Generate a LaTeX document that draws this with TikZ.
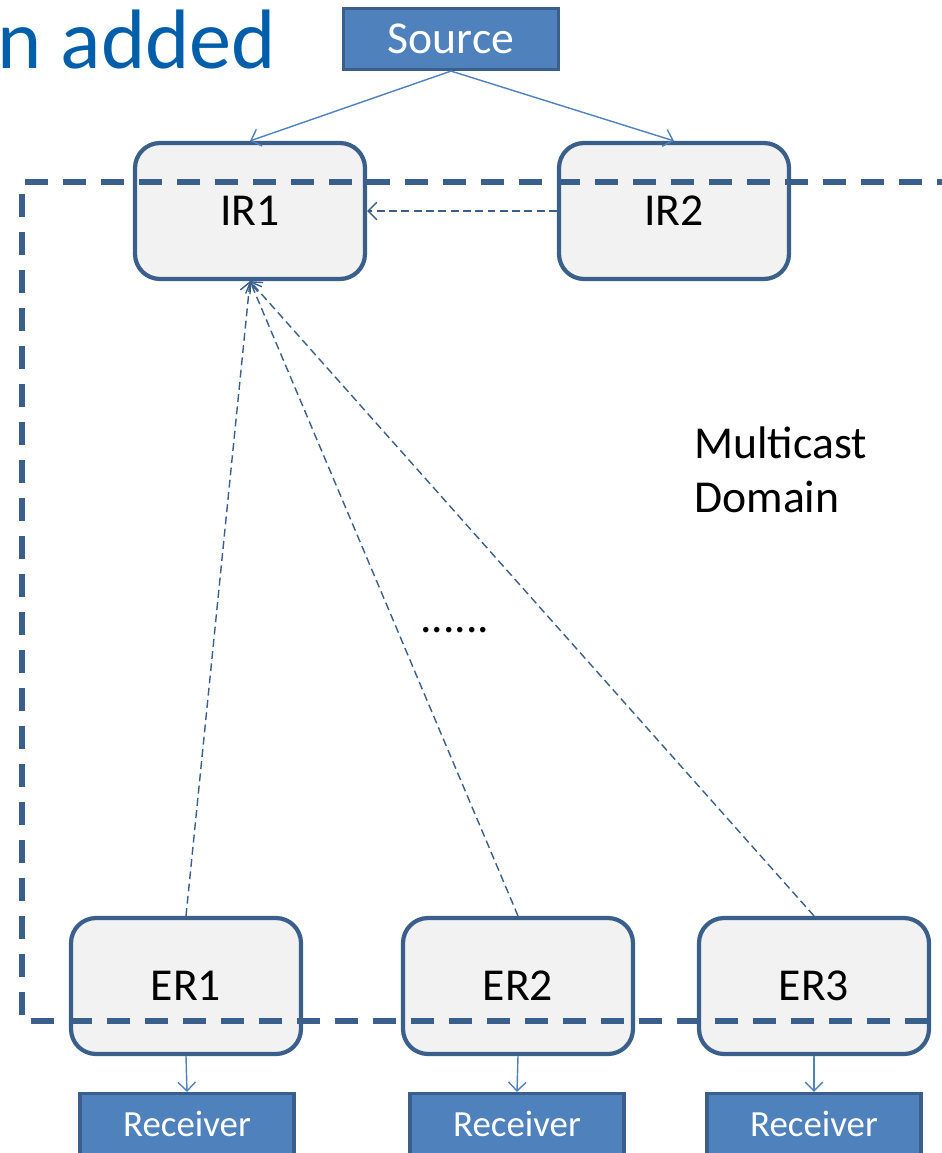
\documentclass[tikz,border=0pt]{standalone}
\usepackage{fontspec}
\setmainfont{Carlito}
\usetikzlibrary{arrows.meta}
\definecolor{edgeblue}{HTML}{3A5F8B}
\definecolor{hostblue}{HTML}{4F81BD}
\definecolor{titleblue}{HTML}{005EAA}
\tikzstyle{router} = [rectangle, rounded corners=0.5cm, minimum width=4.6cm, minimum height=2.72cm, text centered, draw=edgeblue, line width=2.4pt, fill=gray!10, font=\fontsize{26}{31}\selectfont]
\tikzstyle{hostbox} = [rectangle, minimum height=1.22cm, text centered, draw=edgeblue, line width=1.8pt, fill=hostblue, text=white]
\tikzstyle{link} = [hostblue, line width=0.8pt, -{Straight Barb[length=5pt,width=10pt]}]
\tikzstyle{signal} = [edgeblue, line width=0.8pt, dash pattern=on 4.5pt off 2.5pt, -{Straight Barb[length=5pt,width=10pt]}]
\tikzstyle{domainline} = [edgeblue, line width=3.2pt, dash pattern=on 0.46cm off 0.3cm]

\begin{document}
\begin{tikzpicture}[x=0.02cm, y=-0.02cm]

    \clip (0,0) rectangle (942,1153);

    % Title fragment
    \node (title) [anchor=base west, inner sep=0pt, text=titleblue, font=\fontsize{48}{52}\selectfont] at (-3,68) {n added};

    % Nodes
    \node (source) [hostbox, minimum width=4.3cm, font=\fontsize{26}{30}\selectfont] at (451,39) {Source};
    \node (ir1) [router] at (250,211) {IR1};
    \node (ir2) [router] at (674,211) {IR2};
    \node (er1) [router] at (186,986) {ER1};
    \node (er2) [router] at (518,986) {ER2};
    \node (er3) [router] at (814,986) {ER3};
    \node (rcv1) [hostbox, minimum width=4.28cm, font=\fontsize{21}{25}\selectfont] at (187,1124) {Receiver};
    \node (rcv2) [hostbox, minimum width=4.28cm, font=\fontsize{21}{25}\selectfont] at (517,1124) {Receiver};
    \node (rcv3) [hostbox, minimum width=4.28cm, font=\fontsize{21}{25}\selectfont] at (814,1124) {Receiver};

    % Multicast domain
    \draw [domainline] (960,182) -- (22,182) -- (22,1021) -- (960,1021);
    \node (dots) [font=\fontsize{26}{31}\selectfont] at (455,630) {......};
    \node (mdomain) [anchor=north west, align=left, inner sep=0pt, font=\fontsize{26}{31}\selectfont] at (694,426) {Multicast\\Domain};

    % Arrows
    \draw [link] (source.south) -- (ir1.north);
    \draw [link] (source.south) -- (ir2.north);
    \draw [signal] (ir2.west) -- (ir1.east);
    \draw [signal] (er1.north) -- (ir1.south);
    \draw [signal] (er2.north) -- (ir1.south);
    \draw [signal] (er3.north) -- (ir1.south);
    \draw [link] (er1.south) -- (rcv1.north);
    \draw [link] (er2.south) -- (rcv2.north);
    \draw [link] (er3.south) -- (rcv3.north);

\end{tikzpicture}
\end{document}
